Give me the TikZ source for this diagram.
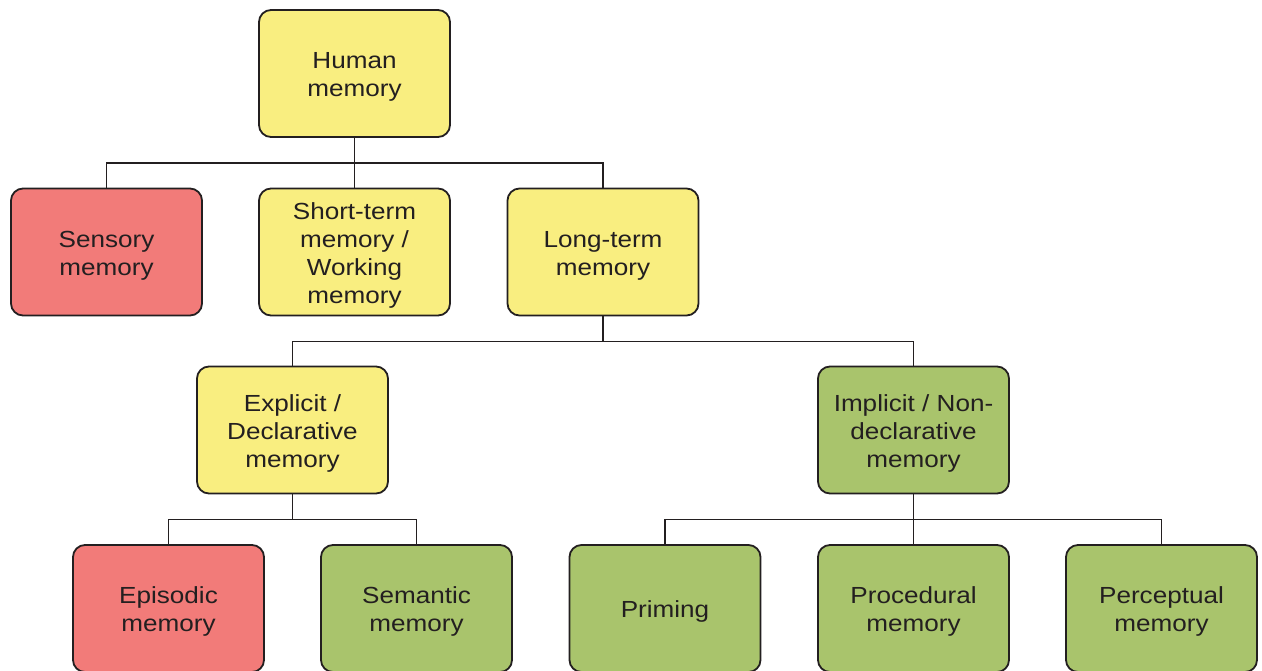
\documentclass[tikz,border=0pt]{standalone}
\usepackage{fontspec}
\setmainfont[FakeStretch=1.12]{Liberation Sans}
\definecolor{memred}{HTML}{F27B79}
\definecolor{memyellow}{HTML}{F9EE80}
\definecolor{memgreen}{HTML}{A9C46C}
\definecolor{memline}{HTML}{231F20}
\newcommand{\mytopstrut}{\rule{0pt}{23.5pt}}
\begin{document}
\begin{tikzpicture}[x=1pt,y=-1pt,
  membox/.style={draw=memline, line width=1.8pt, rounded corners=12pt,
    minimum width=191pt, minimum height=127pt, align=center, inner sep=0pt,
    text=memline, font=\fontsize{23.3}{28}\selectfont},
  red/.style={membox, fill=memred},
  yel/.style={membox, fill=memyellow},
  grn/.style={membox, fill=memgreen},
  conn/.style={draw=memline, line width=1.3pt}]
\useasboundingbox (0,0) rectangle (1262,670);
\node[yel] (human) at (354.5,73.5) {\mytopstrut Human\\memory};
\node[red] (sensory) at (106.5,252) {\mytopstrut Sensory\\memory};
\node[yel] (short) at (354.5,252) {\mytopstrut Short-term\\memory /\\Working\\memory};
\node[yel] (long) at (603,252) {\mytopstrut Long-term\\memory};
\node[yel] (explicit) at (292.5,430) {\mytopstrut Explicit /\\Declarative\\memory};
\node[grn] (implicit) at (913.5,430) {\mytopstrut Implicit / Non-\\declarative\\memory};
\node[red] (episodic) at (168.5,608.5) {\mytopstrut Episodic\\memory};
\node[grn] (semantic) at (416.5,608.5) {\mytopstrut Semantic\\memory};
\node[grn] (priming) at (665,608.5) {\mytopstrut Priming};
\node[grn] (procedural) at (913.5,608.5) {\mytopstrut Procedural\\memory};
\node[grn] (perceptual) at (1161.5,608.5) {\mytopstrut Perceptual\\memory};
\draw[conn] (human.south) -- ++(0,25) coordinate (j1);
\draw[conn] (j1) -| (sensory.north);
\draw[conn] (j1) -| (long.north);
\draw[conn] (j1) -- (short.north);
\draw[conn] (long.south) -- ++(0,25) coordinate (j2);
\draw[conn] (j2) -| (explicit.north);
\draw[conn] (j2) -| (implicit.north);
\draw[conn] (explicit.south) -- ++(0,25) coordinate (j3);
\draw[conn] (j3) -| (episodic.north);
\draw[conn] (j3) -| (semantic.north);
\draw[conn] (implicit.south) -- ++(0,25) coordinate (j4);
\draw[conn] (j4) -| (priming.north);
\draw[conn] (j4) -| (perceptual.north);
\draw[conn] (j4) -- (procedural.north);
\end{tikzpicture}
\end{document}
